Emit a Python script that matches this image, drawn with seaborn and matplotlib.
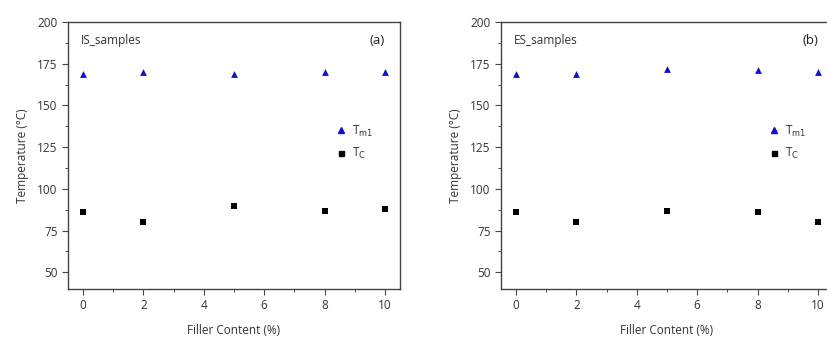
import numpy as np
import pandas as pd
import seaborn as sns
import matplotlib.pyplot as plt
from matplotlib.ticker import MultipleLocator
from matplotlib.lines import Line2D

sns.set_theme(style="ticks")
plt.rcParams["font.family"] = ["Open Sans", "DejaVu Sans"]

# data
filler = [0, 2, 5, 8, 10]
is_tm1 = [169, 170, 169, 170, 170]
is_tc = [86, 80, 90, 87, 88]
es_tm1 = [169, 169, 172, 171, 170]
es_tc = [86, 80, 87, 86, 80]
panels = [("IS_samples", "(a)", is_tm1, is_tc), ("ES_samples", "(b)", es_tm1, es_tc)]

fig = plt.figure(figsize=(8.28, 3.38), dpi=100)
rects = [[68 / 828, 1 - 289 / 338, 332 / 828, 267 / 338],
         [501 / 828, 1 - 289 / 338, 332 / 828, 267 / 338]]
text_col = "#333333"
blue = "#1010d0"

for rect, (name, tag, tm1, tc) in zip(rects, panels):
    ax = fig.add_axes(rect)
    sns.scatterplot(x=filler, y=tm1, marker="^", color=blue, s=24,
                    linewidth=0, ax=ax)
    sns.scatterplot(x=filler, y=tc, marker="s", color="black", s=15,
                    linewidth=0, ax=ax)
    ax.set_xlim(-0.5, 10.5)
    ax.set_ylim(40, 200)
    ax.set_xticks([0, 2, 4, 6, 8, 10])
    ax.set_yticks([50, 75, 100, 125, 150, 175, 200])
    ax.xaxis.set_minor_locator(MultipleLocator(1))
    ax.yaxis.set_minor_locator(MultipleLocator(12.5))
    ax.tick_params(which="major", direction="out", length=4, width=0.8,
                   labelsize=8.5, labelcolor=text_col, color="#444444")
    ax.tick_params(which="minor", direction="out", length=2, width=0.7, color="#444444")
    for sp in ax.spines.values():
        sp.set_color("#444444")
        sp.set_linewidth(1.0)
    ax.set_xlabel("Filler Content (%)", fontsize=8.5, color=text_col, labelpad=8)
    ax.set_ylabel("Temperature (°C)", fontsize=8.5, color=text_col, labelpad=6)
    ax.text(0.04, 0.93, name, transform=ax.transAxes, fontsize=8.5,
            color=text_col, va="center", ha="left")
    ax.text(0.955, 0.93, tag, transform=ax.transAxes, fontsize=9.5,
            color="#222222", va="center", ha="right")
    handles = [Line2D([], [], marker="^", color=blue, linestyle="none", markersize=5),
               Line2D([], [], marker="s", color="black", linestyle="none", markersize=3.6)]
    ax.legend(handles, ["T$_{\\mathrm{m1}}$", "T$_{\\mathrm{C}}$"], frameon=False,
              loc="center left", bbox_to_anchor=(0.77, 0.55), fontsize=8.5,
              handletextpad=0.3, labelspacing=0.6, handlelength=1.2,
              labelcolor=text_col)

fig.savefig("out.png", dpi=100)
